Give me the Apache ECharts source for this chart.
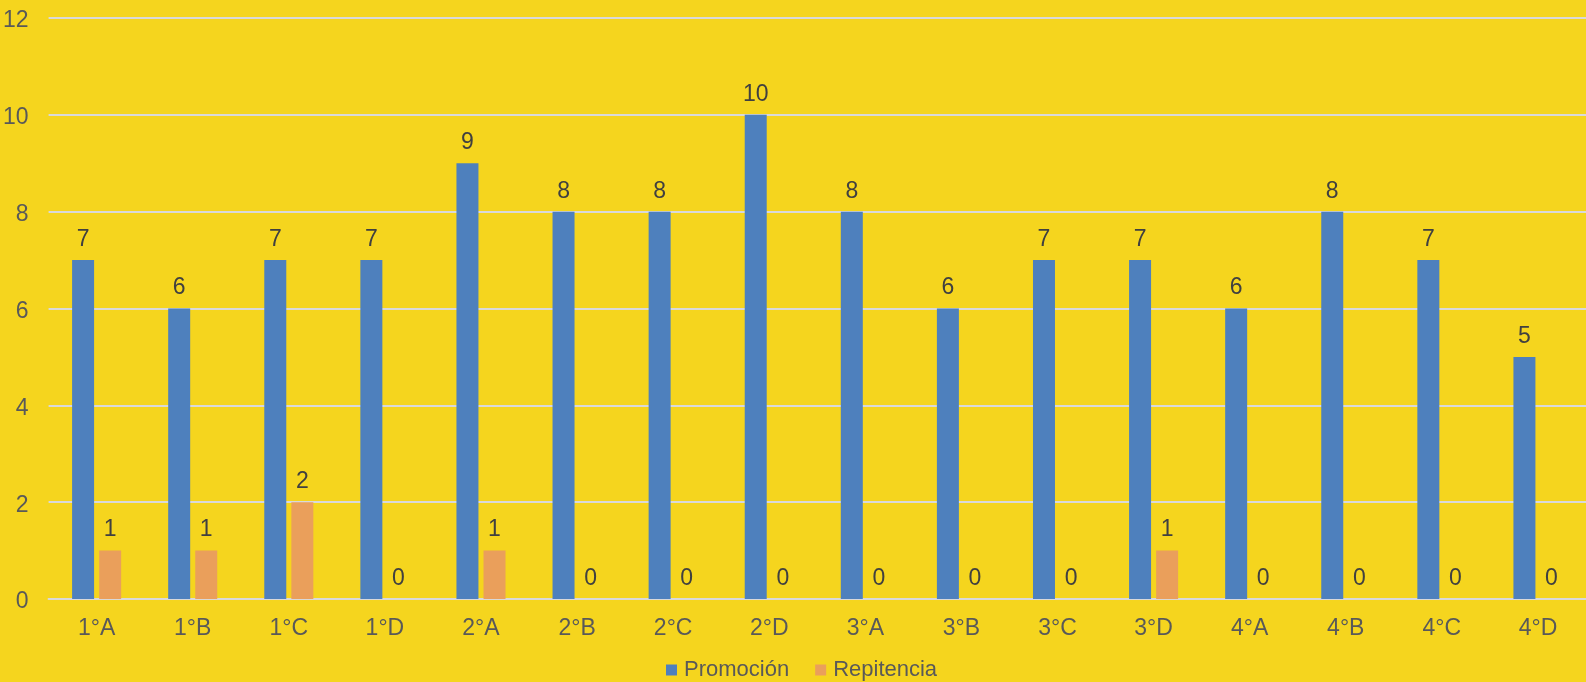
<!DOCTYPE html>
<html>
<head>
<meta charset="utf-8">
<style>
  html, body { margin: 0; padding: 0; background: #F5D51E; }
  #chart { width: 1586px; height: 682px; }
</style>
<script src="https://cdn.jsdelivr.net/npm/echarts@6/dist/echarts.min.js"></script>
</head>
<body>
<div id="chart"></div>
<script>
// cursos
var categories = ['1°A','1°B','1°C','1°D','2°A','2°B','2°C','2°D','3°A','3°B','3°C','3°D','4°A','4°B','4°C','4°D'];
// series
var promocion  = [7, 6, 7, 7, 9, 8, 8, 10, 8, 6, 7, 7, 6, 8, 7, 5];
var repitencia = [1, 1, 2, 0, 1, 0, 0, 0, 0, 0, 0, 1, 0, 0, 0, 0];
// eje y
var yMin = 0, yMax = 12, yStep = 2;

var chart = echarts.init(document.getElementById('chart'));
var font = '"Liberation Sans", Arial, sans-serif';
var lbl = { show: true, position: 'top', distance: 9, color: '#404040', fontSize: 23, fontFamily: font };

var option = {
    backgroundColor: '#F5D51E',
    animation: false,
    textStyle: { fontFamily: font },
    grid: { left: 46, top: 18, width: 1542, bottom: 83, containLabel: false },
    legend: {
        top: 659,
        left: 666,
        itemWidth: 11,
        itemHeight: 11,
        itemGap: 26,
        icon: 'rect',
        padding: 0,
        textStyle: { color: '#595959', fontSize: 22, fontFamily: font, padding: [0, 0, 0, 2] },
        data: ['Promoción', 'Repitencia']
    },
    xAxis: {
        type: 'category',
        data: categories,
        axisLine: { show: true, lineStyle: { color: '#D9D9D9', width: 2 } },
        axisTick: { show: false },
        axisLabel: { color: '#595959', fontSize: 23, margin: 18, fontFamily: font }
    },
    yAxis: {
        type: 'value',
        min: yMin, max: yMax, interval: yStep,
        axisLine: { show: false },
        axisTick: { show: false },
        splitLine: { lineStyle: { color: '#D9D9D9', width: 2 } },
        axisLabel: {
            color: '#595959', margin: 20,
            formatter: '{v|{value}}',
            rich: { v: { fontSize: 23, fontFamily: font, color: '#595959', padding: [6, 0, 0, 0] } }
        }
    },
    series: [
        {
            name: 'Promoción',
            type: 'bar',
            data: promocion,
            barWidth: 22,
            barGap: '23%',
            itemStyle: { color: '#4E80BD' },
            label: lbl
        },
        {
            name: 'Repitencia',
            type: 'bar',
            data: repitencia,
            barWidth: 22,
            itemStyle: { color: '#EA9F5B' },
            label: lbl
        }
    ]
};
chart.setOption(option);
</script>
</body>
</html>
